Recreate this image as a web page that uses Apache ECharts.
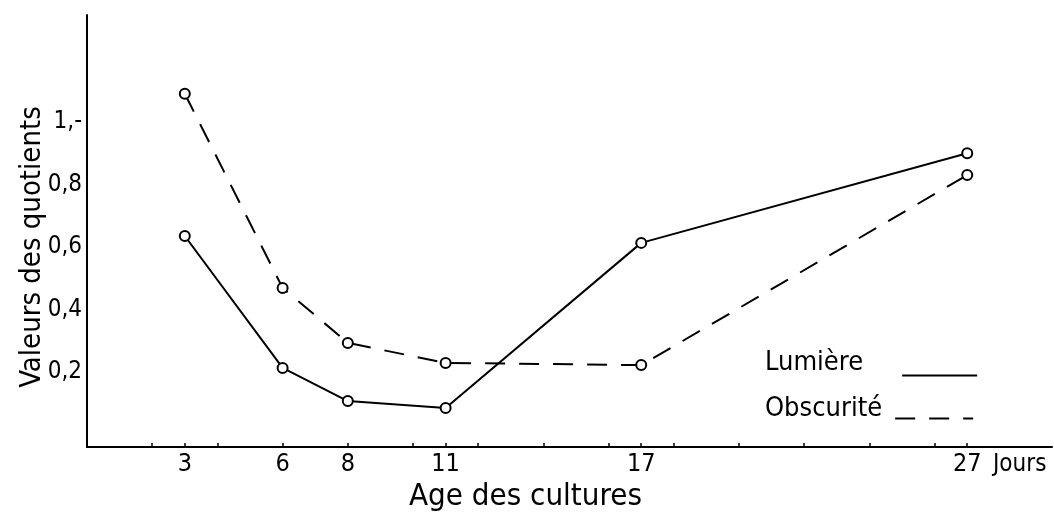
<!DOCTYPE html>
<html>
<head>
<meta charset="utf-8">
<script src="https://cdn.jsdelivr.net/npm/echarts@6/dist/echarts.min.js"></script>
<style>
html,body{margin:0;padding:0;background:#fff;}
#c{width:1054px;height:514px;}
</style>
</head>
<body>
<div id="c"></div>
<script>
var days = [3, 6, 8, 11, 17, 27];
var lumiere = [0.635, 0.213, 0.107, 0.085, 0.613, 0.90];
var obscurite = [1.09, 0.469, 0.293, 0.229, 0.222, 0.83];
var xTickDays = [2, 3, 4, 6, 8, 10, 11, 12, 14, 16, 17, 18, 20, 22, 24, 26, 27];
var xLabelDays = [3, 6, 8, 11, 17, 27];
var yLabelValues = [0.2, 0.4, 0.6, 0.8, 1.0];
var yLabelText = {'0.2': '0,2', '0.4': '0,4', '0.6': '0,6', '0.8': '0,8', '1': '1,-'};

var FONT = "'Liberation Sans Narrow', 'DejaVu Sans Condensed', sans-serif";

function pairs(xs, ys) { return xs.map(function (x, i) { return [x, ys[i]]; }); }

var chart = echarts.init(document.getElementById('c'), null, {renderer: 'canvas'});
var symStyle = {color: '#fff', borderColor: '#000', borderWidth: 2};
chart.setOption({
  animation: false,
  backgroundColor: '#fff',
  grid: {left: 87, right: 2, top: 15, bottom: 67, containLabel: false},
  xAxis: {
    type: 'value', min: 0, max: 29.6,
    axisLine: {show: true, onZero: false, lineStyle: {color: '#000', width: 2}},
    axisTick: {show: true, inside: true, length: 4, customValues: xTickDays, lineStyle: {color: '#000', width: 1.5}},
    axisLabel: {show: true, customValues: xLabelDays, color: '#000', fontFamily: FONT, fontSize: 25, margin: 5},
    splitLine: {show: false}
  },
  yAxis: {
    type: 'value', min: -0.04, max: 1.342,
    name: 'Valeurs des quotients', nameLocation: 'middle', nameRotate: 90, nameGap: 40,
    nameMoveOverlap: false,
    nameTextStyle: {color: '#000', fontFamily: FONT, fontSize: 29, padding: [0, 32, 0, 0]},
    axisLine: {show: true, lineStyle: {color: '#000', width: 2}},
    axisTick: {show: false},
    axisLabel: {show: true, customValues: yLabelValues, color: '#000', fontFamily: FONT, fontSize: 24, margin: 5,
      formatter: function (v) { return yLabelText[String(Math.round(v * 10) / 10)] || ''; }},
    splitLine: {show: false}
  },
  legend: [
    {data: ['Lumière'], left: 760, top: 344, align: 'right', itemWidth: 75, itemHeight: 14,
     formatter: function (n) { return n + '\n '; },
     itemStyle: {opacity: 0}, textStyle: {color: '#000', fontFamily: FONT, fontSize: 27, lineHeight: 26, padding: [0, 34, 0, 0]}},
    {data: ['Obscurité'], left: 760, top: 390, align: 'right', itemWidth: 78, itemHeight: 14,
     formatter: function (n) { return n + '\n '; },
     itemStyle: {opacity: 0}, textStyle: {color: '#000', fontFamily: FONT, fontSize: 27, lineHeight: 20, padding: [0, 8, 0, 0]}}
  ],
  graphic: [
    {type: 'text', left: 993, top: 453, style: {text: 'Jours', fill: '#000', font: '24px ' + FONT}},
    {type: 'text', left: 409, top: 481, style: {text: 'Age des cultures', fill: '#000', font: '31px ' + FONT}}
  ],
  series: [
    {name: 'Lumière', type: 'line', data: pairs(days, lumiere), symbol: 'circle', symbolSize: 10,
     lineStyle: {color: '#000', width: 2, type: 'solid'}, itemStyle: symStyle, z: 3},
    {name: 'Obscurité', type: 'line', data: pairs(days, obscurite), symbol: 'circle', symbolSize: 10,
     lineStyle: {color: '#000', width: 2, type: [20, 14]}, itemStyle: symStyle, z: 3}
  ]
});
</script>
</body>
</html>
